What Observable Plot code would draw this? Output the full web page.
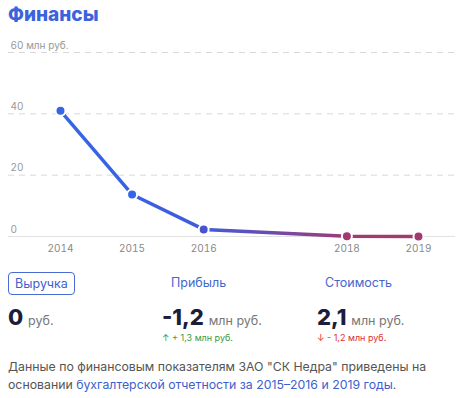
<!DOCTYPE html>
<html><head><meta charset="utf-8">
<script src="https://cdn.jsdelivr.net/npm/d3@7"></script>
<script src="https://cdn.jsdelivr.net/npm/@observablehq/plot@0.6"></script>
<style>
body{margin:0;width:461px;height:398px;background:#fff;font-family:Inter,"Noto Sans",sans-serif;position:relative;overflow:hidden}
.abs{position:absolute;white-space:nowrap}
#title{left:8px;top:3px;font-size:19px;font-weight:800;color:#3c63dc}
#chart{position:absolute;left:0;top:34px}
.btn{left:8px;top:272px;width:65px;height:21px;border:1px solid #4a6bd3;border-radius:4px;color:#3d5fcf;font-size:12.5px;text-align:center;line-height:21px}
.lbl{font-size:12.5px;color:#4466cc;top:275px}
.val{top:304px;font-size:22px;font-weight:800;color:#1b1d3a}
.val span{font-size:12.5px;font-weight:400;color:#777}
.chg{top:332px;font-size:9px}
#note{left:8px;top:358px;font-size:12.3px;line-height:18px;color:#555}
#note a{color:#3d5fcf;text-decoration:none}
</style></head>
<body>
<div id="title" class="abs">Финансы</div>
<div id="chart"></div>
<div class="abs btn">Выручка</div>
<div class="abs lbl" style="left:171px">Прибыль</div>
<div class="abs lbl" style="left:325px">Стоимость</div>
<div class="abs val" style="left:8px">0 <span>руб.</span></div>
<div class="abs val" style="left:162px">-1,2 <span>млн руб.</span></div>
<div class="abs val" style="left:317px">2,1 <span>млн руб.</span></div>
<div class="abs chg" style="left:162px;color:#3a9a3a">↑ + 1,3 млн руб.</div>
<div class="abs chg" style="left:317px;color:#e03030">↓ - 1,2 млн руб.</div>
<div id="note" class="abs">Данные по финансовым показателям ЗАО "СК Недра" приведены на<br>основании <a>бухгалтерской отчетности за 2015–2016 и 2019 годы</a>.</div>
<script>
const years = [2014, 2015, 2016, 2018, 2019];
const revenue = [41, 13.7, 2.3, 0.1, 0];
const dotColors = ["#3566e6", "#3566e6", "#4b52cf", "#a23a72", "#a23a72"];
const yTicks = [0, 20, 40, 60];
const yUnit = "млн руб.";

const data = years.map((y, i) => ({year: y, value: revenue[i], color: dotColors[i]}));

const plot = Plot.plot({
  width: 461,
  height: 226,
  marginLeft: 8,
  marginRight: 6,
  marginTop: 18,
  marginBottom: 24,
  style: {fontFamily: "Inter, 'Noto Sans', sans-serif", background: "transparent"},
  x: {domain: [2013.274, 2019.517], label: null},
  y: {domain: [0, 60], label: null},
  marks: [
    Plot.gridY([20, 40, 60], {stroke: "#d8d8d8", strokeOpacity: 1, strokeDasharray: "6,5"}),
    Plot.ruleY([0], {stroke: "#e2e2e2"}),
    Plot.axisY(yTicks, {anchor: "left", label: null, tickSize: 0, tickPadding: 0, textAnchor: "start", dx: 2, dy: -7, fontSize: 10, fill: "#999",
      tickFormat: d => d === 60 ? `${d} ${yUnit}` : `${d}`}),
    Plot.axisX(years, {anchor: "bottom", label: null, tickSize: 0, tickPadding: 8, fontSize: 10, fill: "#888", tickFormat: d => `${d}`}),
    Plot.line(data, {x: "year", y: "value", stroke: "url(#revgrad)", strokeWidth: 3.5}),
    Plot.dot(data, {x: "year", y: "value", r: 5, fill: "color", stroke: "white", strokeWidth: 2})
  ]
});

// gradient definition for the line (objectBoundingBox spans 2014..2019)
const xs = plot.scale("x");
const x0 = xs.apply(years[0]), x1 = xs.apply(years[years.length - 1]);
const off = yr => (xs.apply(yr) - x0) / (x1 - x0);
const defs = d3.select(plot).insert("defs", ":first-child");
const g = defs.append("linearGradient").attr("id", "revgrad").attr("x1", "0").attr("x2", "1").attr("y1", "0").attr("y2", "0");
g.append("stop").attr("offset", 0).attr("stop-color", "#3566e6");
g.append("stop").attr("offset", off(2016)).attr("stop-color", "#3f5be0");
g.append("stop").attr("offset", off(2018)).attr("stop-color", "#a23a72");
g.append("stop").attr("offset", 1).attr("stop-color", "#a23a72");

document.getElementById("chart").appendChild(plot);
</script>
</body></html>
